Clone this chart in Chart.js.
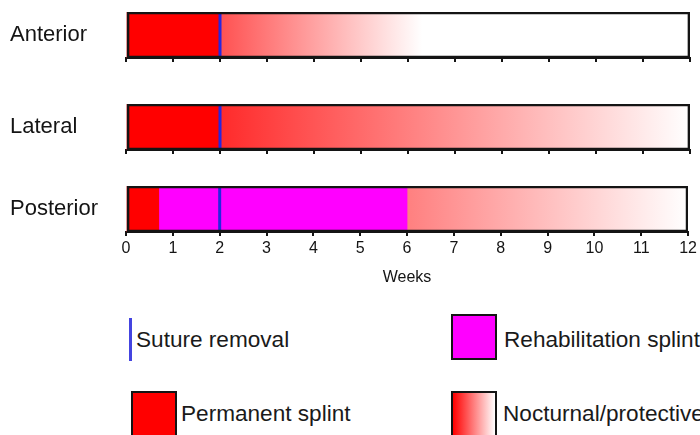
<!DOCTYPE html>
<html>
<head>
<meta charset="utf-8">
<script src="https://cdn.jsdelivr.net/npm/chart.js@4.4.1/dist/chart.umd.min.js"></script>
<style>
    body { margin: 0; width: 700px; height: 435px; overflow: hidden; background: #fff; position: relative;
           font-family: "Liberation Sans", Arial, sans-serif; color: #1a1a1a; }
    .row { position: absolute; left: 0; width: 700px; }
    .leg { position: absolute; font-size: 22.6px; line-height: 22px; white-space: nowrap; }
    .box { position: absolute; width: 42px; height: 42px; border: 2px solid #141414; }
</style>
</head>
<body>
<div class="row" style="top:0; height:80px;"><canvas id="row0"></canvas></div>
<div class="row" style="top:92px; height:80px;"><canvas id="row1"></canvas></div>
<div class="row" style="top:160px; height:140px;"><canvas id="row2"></canvas></div>

<div style="position:absolute; left:129px; top:318px; width:3px; height:43px; background:#4444e0;"></div>
<div class="leg" style="left:136px; top:329px;">Suture removal</div>
<div class="box" style="left:131px; top:391px; background:#ff0000;"></div>
<div class="leg" style="left:181px; top:403px;">Permanent splint</div>
<div class="box" style="left:451px; top:314px; background:#ff00ff;"></div>
<div class="leg" style="left:504px; top:329px;">Rehabilitation splint</div>
<div class="box" style="left:451px; top:391px; background:linear-gradient(to right, #ff0000, #ffffff);"></div>
<div class="leg" style="left:503px; top:403px;">Nocturnal/protective</div>

<script>
// Splint regimen per fracture site, in weeks
const sites = ['Anterior', 'Lateral', 'Posterior'];
const sutureWeek = 2;
const permanentSplint = [[0, 2], [0, 2], [0, 0.7]];
const rehabSplint = [null, null, [0.7, 6]];
const nocturnalSplint = [[2, 6.3], [2, 12], [6, 12]];
const weekMin = 0;
const weekMax = 12;

const INK = '#141414';
const FONT = '"Liberation Sans", Arial, sans-serif';

// Red fading to white, reaching white at the end of the nocturnal period
function nocturnalFill(i) {
    return (ctx) => {
        const chart = ctx.chart;
        if (!chart.chartArea) return '#ff6060';
        const x = chart.scales.x;
        const g = chart.ctx.createLinearGradient(x.getPixelForValue(weekMin), 0, x.getPixelForValue(nocturnalSplint[i][1]), 0);
        g.addColorStop(0, '#ff0000');
        g.addColorStop(1, '#ffffff');
        return g;
    };
}

function bar(data, color, extra) {
    return Object.assign({
        data: [data],
        backgroundColor: color,
        borderWidth: 0,
        grouped: false,
        barPercentage: 1,
        categoryPercentage: 1
    }, extra || {});
}

function createRow(i, isLast) {
    const canvas = document.getElementById('row' + i);
    const padTop = isLast ? 26 : 12;
    const axisHeight = isLast ? 68 : 22;

    new Chart(canvas.getContext('2d'), {
        type: 'bar',
        data: {
            labels: [sites[i]],
            datasets: [
                // outline first so it is drawn on top
                bar([weekMin, weekMax], 'rgba(0,0,0,0)', { borderColor: INK, borderWidth: 2, borderSkipped: false }),
                bar([sutureWeek - 0.025, sutureWeek + 0.025], '#2626e0'),
                bar(permanentSplint[i], '#ff0000'),
                bar(rehabSplint[i], '#ff00ff'),
                bar(nocturnalSplint[i], nocturnalFill(i))
            ]
        },
        options: {
            indexAxis: 'y',
            responsive: true,
            maintainAspectRatio: false,
            animation: false,
            layout: { padding: { top: padTop, left: 10, right: 10, bottom: 0 } },
            plugins: {
                legend: { display: false },
                tooltip: { enabled: false }
            },
            scales: {
                x: {
                    min: weekMin,
                    max: weekMax,
                    afterFit: (scale) => { scale.height = axisHeight; },
                    grid: { drawOnChartArea: false, drawTicks: true, tickLength: 4, color: INK, lineWidth: 2 },
                    border: { display: true, color: INK, width: 2 },
                    ticks: {
                        display: isLast,
                        stepSize: 1,
                        padding: 3,
                        color: INK,
                        font: { family: FONT, size: 16 }
                    },
                    title: {
                        display: isLast,
                        text: 'Weeks',
                        color: INK,
                        padding: { top: 0, bottom: 13 },
                        font: { family: FONT, size: 16 }
                    }
                },
                y: {
                    afterFit: (scale) => { scale.width = 116; },
                    grid: { display: false },
                    border: { display: false },
                    ticks: {
                        crossAlign: 'far',
                        padding: 0,
                        color: INK,
                        font: { family: FONT, size: 22, lineHeight: 1 }
                    }
                }
            }
        }
    });
}

document.addEventListener('DOMContentLoaded', () => {
    sites.forEach((s, i) => createRow(i, i === sites.length - 1));
});
</script>
</body>
</html>
